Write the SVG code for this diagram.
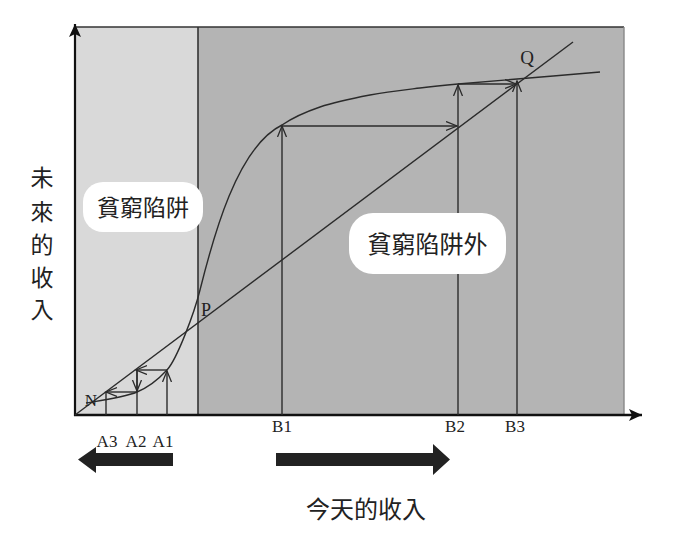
<svg xmlns="http://www.w3.org/2000/svg" width="690" height="551" viewBox="0 0 690 551">
<style>
.ln{stroke:#2b2b2b;stroke-width:1.4;fill:none}
.ar{stroke:#2b2b2b;stroke-width:1.4;fill:none;marker-end:url(#oa)}
.lbl{font-family:"Liberation Serif",serif;fill:#222}
.cjk{font-family:"Noto Sans CJK TC","Noto Sans CJK SC",sans-serif;fill:#222}
</style>
<defs>
<marker id="oa" markerWidth="14" markerHeight="12" refX="11" refY="5" orient="auto" markerUnits="userSpaceOnUse">
<path d="M0,0.5 L11,5 L0,9.5" fill="none" stroke="#2b2b2b" stroke-width="1.3"/>
</marker>
<marker id="fa" markerWidth="16" markerHeight="14" refX="13" refY="6" orient="auto" markerUnits="userSpaceOnUse">
<path d="M0,0 L13,6 L0,12 L3,6 Z" fill="#111"/>
</marker>
</defs>
<rect width="690" height="551" fill="#fff"/>
<g id="regions">
<rect x="75" y="27" width="123" height="388" fill="#d9d9d9"/>
<rect x="198" y="27" width="426" height="388" fill="#b4b4b4"/>
<line x1="75" y1="27" x2="624" y2="27" stroke="#333" stroke-width="1.6"/>
<line x1="624" y1="27" x2="624" y2="415" stroke="#888" stroke-width="1.4"/>
<line x1="198" y1="27" x2="198" y2="415" stroke="#333" stroke-width="1.6"/>
</g>
<g id="axes">
<line x1="75" y1="416" x2="75" y2="24" stroke="#111" stroke-width="2.2" marker-end="url(#fa)"/>
<line x1="74" y1="415" x2="642" y2="415" stroke="#111" stroke-width="2.4" marker-end="url(#fa)"/>
</g>
<g id="connectors">
<line class="ln" x1="75" y1="415" x2="573" y2="42"/>
<path class="ln" d="M86,403 C96.2,401.2 123.8,397.5 137,392 C150.2,386.5 159,378.7 167,370 C177,359 194,314 200,290 C213,238 237,147 282,125 C292.5,117.8 305.3,112 320,107 C334.7,102 353.3,98.2 370,95 C386.7,91.8 405.3,89.8 420,88 C434.7,86.2 441.8,85.5 458,84 C474.2,82.5 493.3,81 517,79 C540.7,77 586.2,73.2 600,72"/>
<line class="ar" x1="282" y1="415" x2="282" y2="126"/>
<line class="ar" x1="282" y1="126" x2="457" y2="126"/>
<line class="ar" x1="458" y1="415" x2="458" y2="85"/>
<line class="ar" x1="458" y1="84" x2="516" y2="84"/>
<line class="ar" x1="517" y1="415" x2="517" y2="81"/>
<line class="ar" x1="167" y1="415" x2="167" y2="371"/>
<line class="ar" x1="167" y1="370" x2="136" y2="370"/>
<line class="ln" x1="137" y1="415" x2="137" y2="370"/>
<line class="ar" x1="137" y1="370" x2="137" y2="391"/>
<line class="ar" x1="137" y1="392" x2="106" y2="392"/>
<line class="ln" x1="106" y1="415" x2="106" y2="392"/>
</g>
<g id="points">
<text class="lbl" x="91" y="406" font-size="17" text-anchor="middle">N</text>
<text class="lbl" x="206" y="316" font-size="18" text-anchor="middle">P</text>
<text class="lbl" x="527" y="64" font-size="19" text-anchor="middle">Q</text>
<text class="lbl" x="107" y="447" font-size="17" text-anchor="middle">A3</text>
<text class="lbl" x="136" y="447" font-size="17" text-anchor="middle">A2</text>
<text class="lbl" x="163" y="447" font-size="17" text-anchor="middle">A1</text>
<text class="lbl" x="282" y="432" font-size="17" text-anchor="middle">B1</text>
<text class="lbl" x="455" y="432" font-size="17" text-anchor="middle">B2</text>
<text class="lbl" x="515" y="432" font-size="17" text-anchor="middle">B3</text>
</g>
<g id="trap-label">
<rect x="83" y="182" width="120" height="50" rx="20" fill="#fff"/>
<text class="cjk" x="143" y="216" font-size="23" text-anchor="middle">貧窮陷阱</text>
</g>
<g id="outside-label">
<rect x="349" y="213" width="157" height="61" rx="24" fill="#fff"/>
<text class="cjk" x="427.5" y="253" font-size="24" text-anchor="middle">貧窮陷阱外</text>
</g>
<g id="y-label">
<text class="cjk" x="42" y="186" font-size="23" text-anchor="middle">未</text>
<text class="cjk" x="42" y="220" font-size="23" text-anchor="middle">來</text>
<text class="cjk" x="42" y="253" font-size="23" text-anchor="middle">的</text>
<text class="cjk" x="42" y="286" font-size="23" text-anchor="middle">收</text>
<text class="cjk" x="42" y="318" font-size="23" text-anchor="middle">入</text>
</g>
<g id="x-label">
<text class="cjk" x="366" y="518" font-size="24" text-anchor="middle">今天的收入</text>
</g>
<g id="direction-arrows">
<polygon points="173,453 96,453 96,447 78,459.5 96,473 96,466 173,466" fill="#222"/>
<polygon points="276,453 433,453 433,444 450,459.5 433,475 433,466 276,466" fill="#222"/>
</g>
</svg>
